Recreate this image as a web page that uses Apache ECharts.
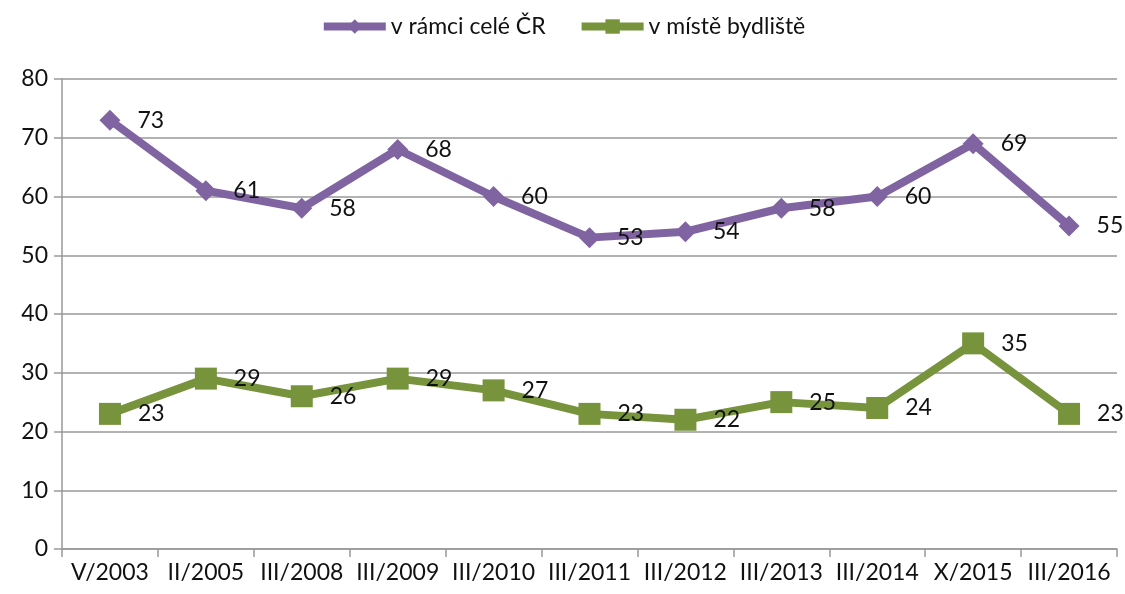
<!DOCTYPE html>
<html>
<head>
<meta charset="utf-8">
<script src="https://cdn.jsdelivr.net/npm/echarts@6/dist/echarts.min.js"></script>
<style>
  html, body { margin: 0; padding: 0; background: #fff; }
  #main { width: 1125px; height: 594px; }
</style>
</head>
<body>
<div id="main"></div>
<script>
// data
const categories = ['V/2003', 'II/2005', 'III/2008', 'III/2009', 'III/2010', 'III/2011', 'III/2012', 'III/2013', 'III/2014', 'X/2015', 'III/2016'];
const celeCR = [73, 61, 58, 68, 60, 53, 54, 58, 60, 69, 55];
const bydliste = [23, 29, 26, 29, 27, 23, 22, 25, 24, 35, 23];
const seriesNames = ['v rámci celé ČR', 'v místě bydliště'];

const font = 'Lato, "Open Sans", sans-serif';
const fs = 23;
const lbl = { show: true, position: 'right', distance: 17, color: '#111', fontSize: fs, fontFamily: font };

let chart = echarts.init(document.getElementById('main'));
chart.setOption({
    animation: false,
    legend: {
        top: 10,
        left: 'center',
        itemWidth: 62,
        itemHeight: 18,
        itemGap: 32,
        lineStyle: { width: 8 },
        textStyle: { fontSize: fs, color: '#111', fontFamily: font },
        data: seriesNames
    },
    grid: { left: 62, right: 8, top: 79, bottom: 45 },
    xAxis: {
        type: 'category',
        data: categories,
        boundaryGap: true,
        axisLine: { lineStyle: { color: '#999', width: 1.5 } },
        axisTick: { show: true, length: 8, lineStyle: { color: '#999', width: 1.5 } },
        axisLabel: { fontSize: fs, color: '#111', fontFamily: font, margin: 12, interval: 0 }
    },
    yAxis: {
        type: 'value',
        min: 0,
        max: 80,
        interval: 10,
        axisLine: { show: true, lineStyle: { color: '#999', width: 1.5 } },
        axisTick: { show: true, length: 8, lineStyle: { color: '#999', width: 1.5 } },
        splitLine: { lineStyle: { color: '#999', width: 1.5 } },
        axisLabel: { fontSize: fs, color: '#111', fontFamily: font, margin: 14 }
    },
    series: [
        {
            name: seriesNames[0],
            type: 'line',
            data: celeCR,
            symbol: 'diamond',
            symbolSize: 21,
            color: '#8064A2',
            lineStyle: { width: 8, color: '#8064A2' },
            label: lbl
        },
        {
            name: seriesNames[1],
            type: 'line',
            data: bydliste,
            symbol: 'rect',
            symbolSize: 22,
            color: '#77933C',
            lineStyle: { width: 8, color: '#77933C' },
            label: lbl
        }
    ]
});
</script>
</body>
</html>
